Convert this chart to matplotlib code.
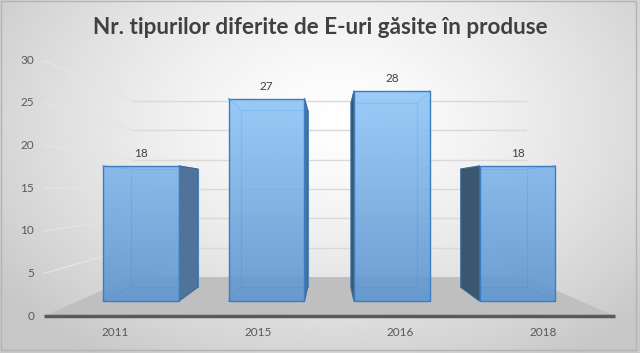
import numpy as np
import matplotlib.pyplot as plt
from matplotlib.patches import Polygon, Rectangle

plt.rcParams['font.family'] = ['Lato', 'DejaVu Sans']

# data
years = ['2011', '2015', '2016', '2018']
counts = [18, 27, 28, 18]
yticks = [0, 5, 10, 15, 20, 25, 30]
title = 'Nr. tipurilor diferite de E-uri găsite în produse'

# fake 3d: perspective toward a vanishing point, s = scale of a depth plane
XC, YC = 1.5, 14.73
S_AXIS, S_BACK, S_WALL = 1.137, 0.875, 0.783
W = 0.605


def proj(x, y, s):
    return XC + (np.asarray(x) - XC) * s, YC + (np.asarray(y) - YC) * s


fig = plt.figure(figsize=(6.4, 3.53), dpi=100)

# background gradient
bg = fig.add_axes([0, 0, 1, 1])
bg.axis('off')
yy, xx = np.mgrid[0:353, 0:640]
r = np.sqrt(((xx - 335) / 380.0) ** 2 + ((yy - 120) / 260.0) ** 2)
g = 1 - 0.19 * np.clip(r, 0, 1.1) ** 1.4
bg.imshow(np.dstack([g, g, g]), extent=[0, 640, 353, 0], aspect='auto')

ax = fig.add_axes([0, 0, 1, 1])
ax.patch.set_alpha(0)
ax.axis('off')

x0, x1 = -0.5, len(years) - 0.5

# grid on back wall + side wall
for v in yticks[1:]:
    xs, ys = proj([x0, x1], [v, v], S_WALL)
    ax.plot(xs, ys, color='#d9d9d9', lw=1, zorder=1)
    a = proj(x0, v, S_AXIS)
    b = proj(x0, v, S_WALL)
    ax.plot([a[0], b[0]], [a[1], b[1]], color='#e4e4e4', lw=1, zorder=1)

# floor
fl = [proj(x0, 0, S_AXIS), proj(x1, 0, S_AXIS), proj(x1, 0, S_WALL), proj(x0, 0, S_WALL)]
ax.add_patch(Polygon(fl, closed=True, facecolor='#bfbfbf', edgecolor='none', zorder=2))
ax.plot([fl[0][0], fl[1][0]], [fl[0][1], fl[1][1]], color='#595959', lw=2.5, zorder=2,
        solid_capstyle='butt')

# bars
bars = ax.bar(range(len(years)), counts, width=W, color='none', edgecolor='#3d7cc0',
              lw=1, zorder=6)

grad = np.linspace(0, 1, 256)[:, None]
c0 = np.array([96, 150, 208]) / 255.0
c1 = np.array([148, 202, 250]) / 255.0
gimg = c0 + (c1 - c0) * grad[..., None] * np.ones((1, 2, 1))

for i, (bar, v) in enumerate(zip(bars, counts)):
    left, right = i - W / 2, i + W / 2
    bl, br = proj(left, 0, S_BACK), proj(right, 0, S_BACK)
    tl, tr = proj(left, v, S_BACK), proj(right, v, S_BACK)
    # hidden edges seen through the glass
    back = [bl, br, tr, tl, bl]
    ax.plot([p[0] for p in back], [p[1] for p in back], color='#4f8fd0', lw=0.8, zorder=3)
    for fx, fy, p in [(left, 0, bl), (right, 0, br), (left, v, tl), (right, v, tr)]:
        ax.plot([fx, p[0]], [fy, p[1]], color='#4f8fd0', lw=0.8, zorder=3)
    # side face
    if i < XC:
        side = [(right, 0), (right, v), tr, br]
        col = '#4f739a'
    else:
        side = [(left, 0), (left, v), tl, bl]
        col = '#3b566f'
    ax.add_patch(Polygon(side, closed=True, facecolor=col, edgecolor='#3d6a99',
                         lw=0.8, zorder=4))
    im = ax.imshow(gimg, extent=[x0, x1, 0, 30], origin='lower', aspect='auto',
                   alpha=0.9, zorder=5)
    im.set_clip_path(bar)
    ax.annotate(str(v), xy=(i, v), xytext=(0, 5), textcoords='offset points',
                ha='center', va='bottom', fontsize=8.5, color='#404040', zorder=7)

ax.set_xlim(-141 / 125.5, 499 / 125.5)
ax.set_ylim(-52 / 7.5, 301 / 7.5)

# tick labels
for v in yticks:
    ax.text((34 - 141) / 125.5, proj(0, v, S_AXIS)[1], str(v), ha='right', va='center',
            fontsize=8.5, color='#595959')
for i, yr in enumerate(years):
    ax.text(proj(i, 0, S_AXIS)[0], (301 - 332) / 7.5, yr, ha='center', va='center',
            fontsize=8.5, color='#595959')

fig.text(0.5, 1 - 28 / 353, title, ha='center', va='center', fontsize=16.2,
         fontweight='bold', color='#404040')

fig.patches.append(Rectangle((0.5 / 640, 1 - 350 / 353), 635.5 / 640, 349.5 / 353,
                             transform=fig.transFigure, fill=False, edgecolor='#b4b4b4',
                             lw=1))

fig.savefig('out.png', dpi=100)
